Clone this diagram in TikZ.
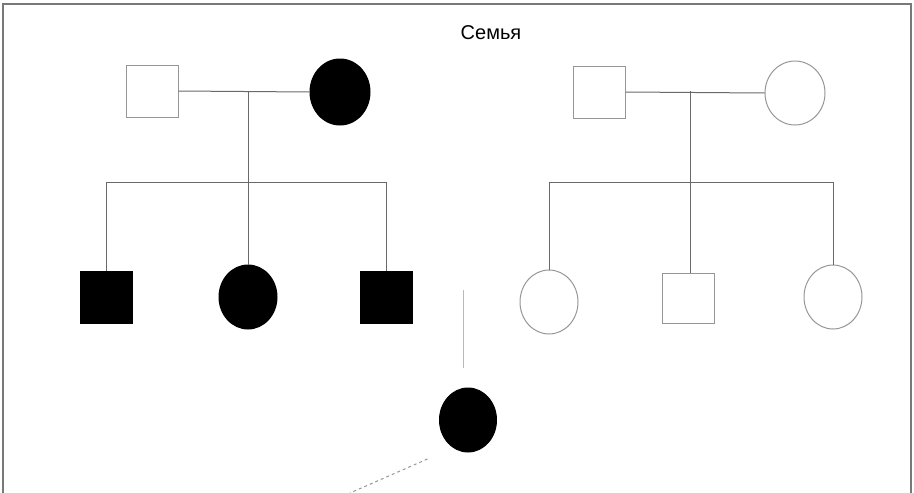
\documentclass[tikz,border=0pt]{standalone}
\usepackage{fontspec}
\setmainfont{Liberation Sans}
\usetikzlibrary{shapes.geometric}
\definecolor{frame}{RGB}{120,120,120}
\definecolor{linegray}{RGB}{105,105,105}
\definecolor{opengray}{RGB}{150,150,150}
\definecolor{faint}{RGB}{185,185,185}
\tikzset{
  male/.style={draw=opengray, line width=1pt, rectangle, minimum width=52pt, minimum height=52pt, inner sep=0pt},
  female/.style={draw=opengray, line width=1pt, ellipse, minimum width=58pt, minimum height=64pt, inner sep=0pt},
  maleaff/.style={male, draw=black, fill=black},
  femaleaff/.style={female, draw=black, fill=black},
  link/.style={draw=linegray, line width=1pt},
  faintlink/.style={draw=faint, line width=1pt}
}
\begin{document}
\begin{tikzpicture}[x=1pt, y=-1pt]
  \useasboundingbox (0,0) rectangle (914,493);
  % outer frame (open at the bottom)
  \draw[frame, line width=2pt] (3,493) -- (3,4) -- (911,4) -- (911,493);
  \node (title) at (491,33) {\fontsize{20}{24}\selectfont Семья};

  % left family: parents
  \node[male] (f1) at (152,91) {};
  \node[femaleaff, minimum width=60pt, minimum height=66pt] (m1) at (340,92) {};
  \coordinate (c1) at (248,91);
  \coordinate (s1) at (248,182);
  % left family: children
  \node[maleaff] (k1) at (106,297) {};
  \node[femaleaff] (k2) at (248,297) {};
  \node[maleaff] (k3) at (386,297) {};
  \coordinate (s1l) at (k1 |- s1);
  \coordinate (s1r) at (k3 |- s1);

  \draw[link] (f1.east) -- (m1.west);
  \draw[link] (c1) -- (s1);
  \draw[link] (s1l) -- (s1r);
  \draw[link] (s1l) -- (k1.north);
  \draw[link] (s1) -- (k2.north);
  \draw[link] (s1r) -- (k3.north);

  % right family: parents
  \node[male] (f2) at (599,92) {};
  \node[female, minimum width=60pt] (m2) at (795,93) {};
  \coordinate (c2) at (690,91);
  \coordinate (s2) at (690,182);
  % right family: children
  \node[female] (k4) at (549,302) {};
  \node[male, minimum height=50pt] (k5) at (688,298) {};
  \node[female] (k6) at (833,297) {};
  \coordinate (s2l) at (k4 |- s2);
  \coordinate (s2r) at (k6 |- s2);

  \draw[link] (f2.east) -- (m2.west);
  \draw[link] (c2) -- (s2);
  \draw[link] (s2l) -- (s2r);
  \draw[link] (s2l) -- (k4.north);
  \draw[link] (s2) -- (s2 |- k5.north);
  \draw[link] (s2r) -- (k6.north);

  % next generation
  \node[femaleaff, minimum width=57pt, minimum height=64pt] (g1) at (468,420) {};
  \coordinate (d1) at (463,290);
  \coordinate (d2) at (463,368);
  \coordinate (e1) at (350,493);
  \draw[faintlink] (d1) -- (d2);
  \draw[linegray!70, line width=1pt, dashed] (g1.south west) ++(-20,16) -- (e1);
\end{tikzpicture}
\end{document}
